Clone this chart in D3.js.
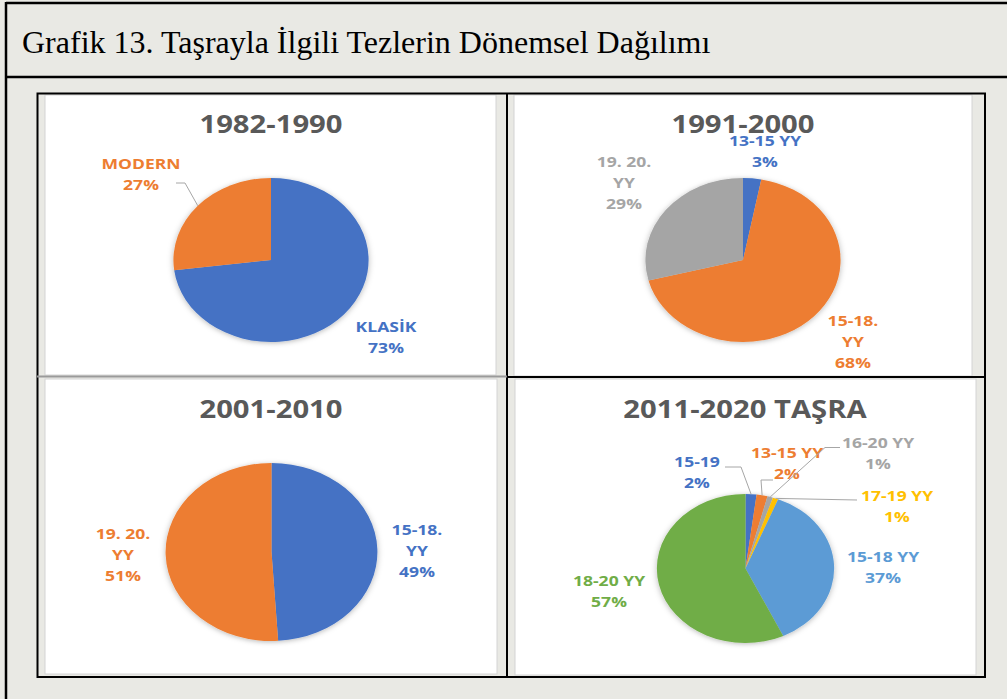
<!DOCTYPE html>
<html>
<head>
<meta charset="utf-8">
<script src="https://cdn.jsdelivr.net/npm/d3@7"></script>
<style>
  body { margin: 0; background: #e9e9e4; }
  svg { display: block; }
  .pie-title { font-family: "Open Sans", sans-serif; font-weight: 700; font-size: 25px; fill: #595959; }
  .pie-label { font-family: "Open Sans", sans-serif; font-weight: 700; font-size: 15px; }
  .leader { fill: none; stroke: #a6a6a6; stroke-width: 1; }
</style>
</head>
<body>
<script>
// ---- data ----
var titleText = "Grafik 13. Taşrayla İlgili Tezlerin Dönemsel Dağılımı";
var chartTitles = ["1982-1990", "1991-2000", "2001-2010", "2011-2020 TAŞRA"];

var names1982 = ["KLASİK", "MODERN"];
var values1982 = [73, 27];

var names1991 = ["13-15 YY", "15-18. YY", "19. 20. YY"];
var values1991 = [3, 68, 29];

var names2001 = ["15-18. YY", "19. 20. YY"];
var values2001 = [49, 51];

var names2011 = ["15-19", "13-15 YY", "16-20 YY", "17-19 YY", "15-18 YY", "18-20 YY"];
var values2011 = [2, 2, 1, 1, 37, 57];

var officeColors = ["#4472c4", "#ed7d31", "#a5a5a5", "#ffc000", "#5b9bd5", "#70ad47"];

// ---- layout ----
var width = 1007, height = 699;
var stretch = 1.19; // the source pictures are wider than tall

// label offsets from the pie centre (first baseline), optional leader points
var panels = [
  { names: names1982, values: values1982, cx: 271, cy: 260, r: 82, tx: 271, ty: 133,
    box: [45, 95, 451, 280],
    labels: [ { dx: 115, dy: 72 },
              { dx: -130, dy: -91, leader: [[-95, -77], [-86, -77]] } ] },
  { names: names1991, values: values1991, cx: 743, cy: 260, r: 82, tx: 743, ty: 133,
    box: [514, 95, 458, 281],
    labels: [ { dx: 22, dy: -114 },
              { dx: 110, dy: 66, wrap: true },
              { dx: -119, dy: -93, wrap: true } ] },
  { names: names2001, values: values2001, cx: 271.5, cy: 552, r: 89, tx: 271, ty: 418,
    box: [45, 379, 452, 295],
    labels: [ { dx: 145.5, dy: -17, wrap: true },
              { dx: -148.5, dy: -13, wrap: true } ] },
  { names: names2011, values: values2011, cx: 745.5, cy: 568.5, r: 74.5, tx: 745, ty: 418,
    box: [515, 379, 461, 296],
    labels: [ { dx: -48.5, dy: -101.5, leader: [[-20.5, -101.5], [-4.5, -101.5]] },
              { dx: 41.5, dy: -110.5, leader: [[27.5, -88.5], [15.5, -88.5]] },
              { dx: 132.5, dy: -120.5, leader: [[94.5, -121], [79.5, -121]] },
              { dx: 151.5, dy: -67.5, leader: [[111.5, -68.5]] },
              { dx: 137.5, dy: -6.5 },
              { dx: -136.5, dy: 17.5 } ] }
];

var svg = d3.select("body").append("svg")
  .attr("width", width)
  .attr("height", height);

var defs = svg.append("defs");
defs.append("filter")
  .attr("id", "pieShadow")
  .attr("x", "-20%").attr("y", "-20%").attr("width", "140%").attr("height", "140%")
  .append("feDropShadow")
  .attr("dx", 0).attr("dy", 1)
  .attr("stdDeviation", 2.5)
  .attr("flood-color", "#000")
  .attr("flood-opacity", 0.28);

/*
========== page frame and caption ==========
*/
svg.append("line").attr("x1", 6).attr("x2", width).attr("y1", 3).attr("y2", 3)
  .attr("stroke", "#000").attr("stroke-width", 2.5);
svg.append("line").attr("x1", 6).attr("x2", 6).attr("y1", 2).attr("y2", height)
  .attr("stroke", "#000").attr("stroke-width", 2.5);
svg.append("line").attr("x1", 6).attr("x2", width).attr("y1", 77).attr("y2", 77)
  .attr("stroke", "#000").attr("stroke-width", 2.5);

svg.append("text")
  .attr("x", 22)
  .attr("y", 53)
  .style("font-family", "'Liberation Serif', 'Times New Roman', serif")
  .style("font-size", "32px")
  .style("fill", "#000")
  .text(titleText);

// white chart areas
panels.forEach(function(p) {
  svg.append("rect")
    .attr("x", p.box[0]).attr("y", p.box[1])
    .attr("width", p.box[2]).attr("height", p.box[3])
    .attr("fill", "#fff")
    .attr("stroke", "#d4d4d4")
    .attr("stroke-width", 1);
});

// cell borders
svg.append("rect")
  .attr("x", 37.5).attr("y", 93.5).attr("width", 947.5).attr("height", 583.5)
  .attr("fill", "none").attr("stroke", "#000").attr("stroke-width", 2);
svg.append("line").attr("x1", 507).attr("x2", 507).attr("y1", 93).attr("y2", 677)
  .attr("stroke", "#000").attr("stroke-width", 2);
svg.append("line").attr("x1", 507).attr("x2", 985).attr("y1", 377).attr("y2", 377)
  .attr("stroke", "#000").attr("stroke-width", 2);
svg.append("line").attr("x1", 37).attr("x2", 507).attr("y1", 376.5).attr("y2", 376.5)
  .attr("stroke", "#9a9a9a").attr("stroke-width", 2);

/*
========== pies ==========
*/
var color = d3.scaleOrdinal().range(officeColors);
var pct = d3.format(".0%");

panels.forEach(function(p, k) {
  var pie = d3.pie().sort(null).value(function(d) { return d; });
  var arcs = pie(p.values);
  var total = d3.sum(p.values);
  var arc = d3.arc().innerRadius(0).outerRadius(p.r);
  var edge = d3.arc().innerRadius(p.r).outerRadius(p.r);

  svg.append("text")
    .attr("class", "pie-title")
    .attr("text-anchor", "middle")
    .attr("transform", "translate(" + p.tx + "," + p.ty + ") scale(" + (stretch - 0.02) + ",1)")
    .text(chartTitles[k]);

  var g = svg.append("g")
    .attr("transform", "translate(" + p.cx + "," + p.cy + ") scale(" + stretch + ",1)");

  g.append("g")
    .attr("filter", "url(#pieShadow)")
    .selectAll("path")
    .data(arcs)
    .enter()
    .append("path")
    .attr("d", arc)
    .attr("fill", function(d, i) { return color(i); });

  var labelGroup = svg.append("g")
    .attr("transform", "translate(" + p.cx + "," + p.cy + ")");

  arcs.forEach(function(d, i) {
    var lay = p.labels[i];
    if (lay.leader) {
      var c = edge.centroid(d);
      var pts = lay.leader.concat([[c[0] * stretch, c[1]]]);
      labelGroup.append("path")
        .attr("class", "leader")
        .attr("d", d3.line()(pts));
    }

    var name = p.names[i];
    var lines = [];
    if (lay.wrap) {
      var cut = name.lastIndexOf(" ");
      lines.push(name.slice(0, cut), name.slice(cut + 1));
    } else {
      lines.push(name);
    }
    lines.push(pct(d.value / total));

    var t = labelGroup.append("text")
      .attr("class", "pie-label")
      .attr("text-anchor", "middle")
      .attr("transform", "translate(" + lay.dx + "," + lay.dy + ") scale(" + (stretch - 0.02) + ",1)")
      .style("fill", color(i));
    lines.forEach(function(s, j) {
      t.append("tspan").attr("x", 0).attr("y", j * 21).text(s);
    });
  });
});
</script>
</body>
</html>
